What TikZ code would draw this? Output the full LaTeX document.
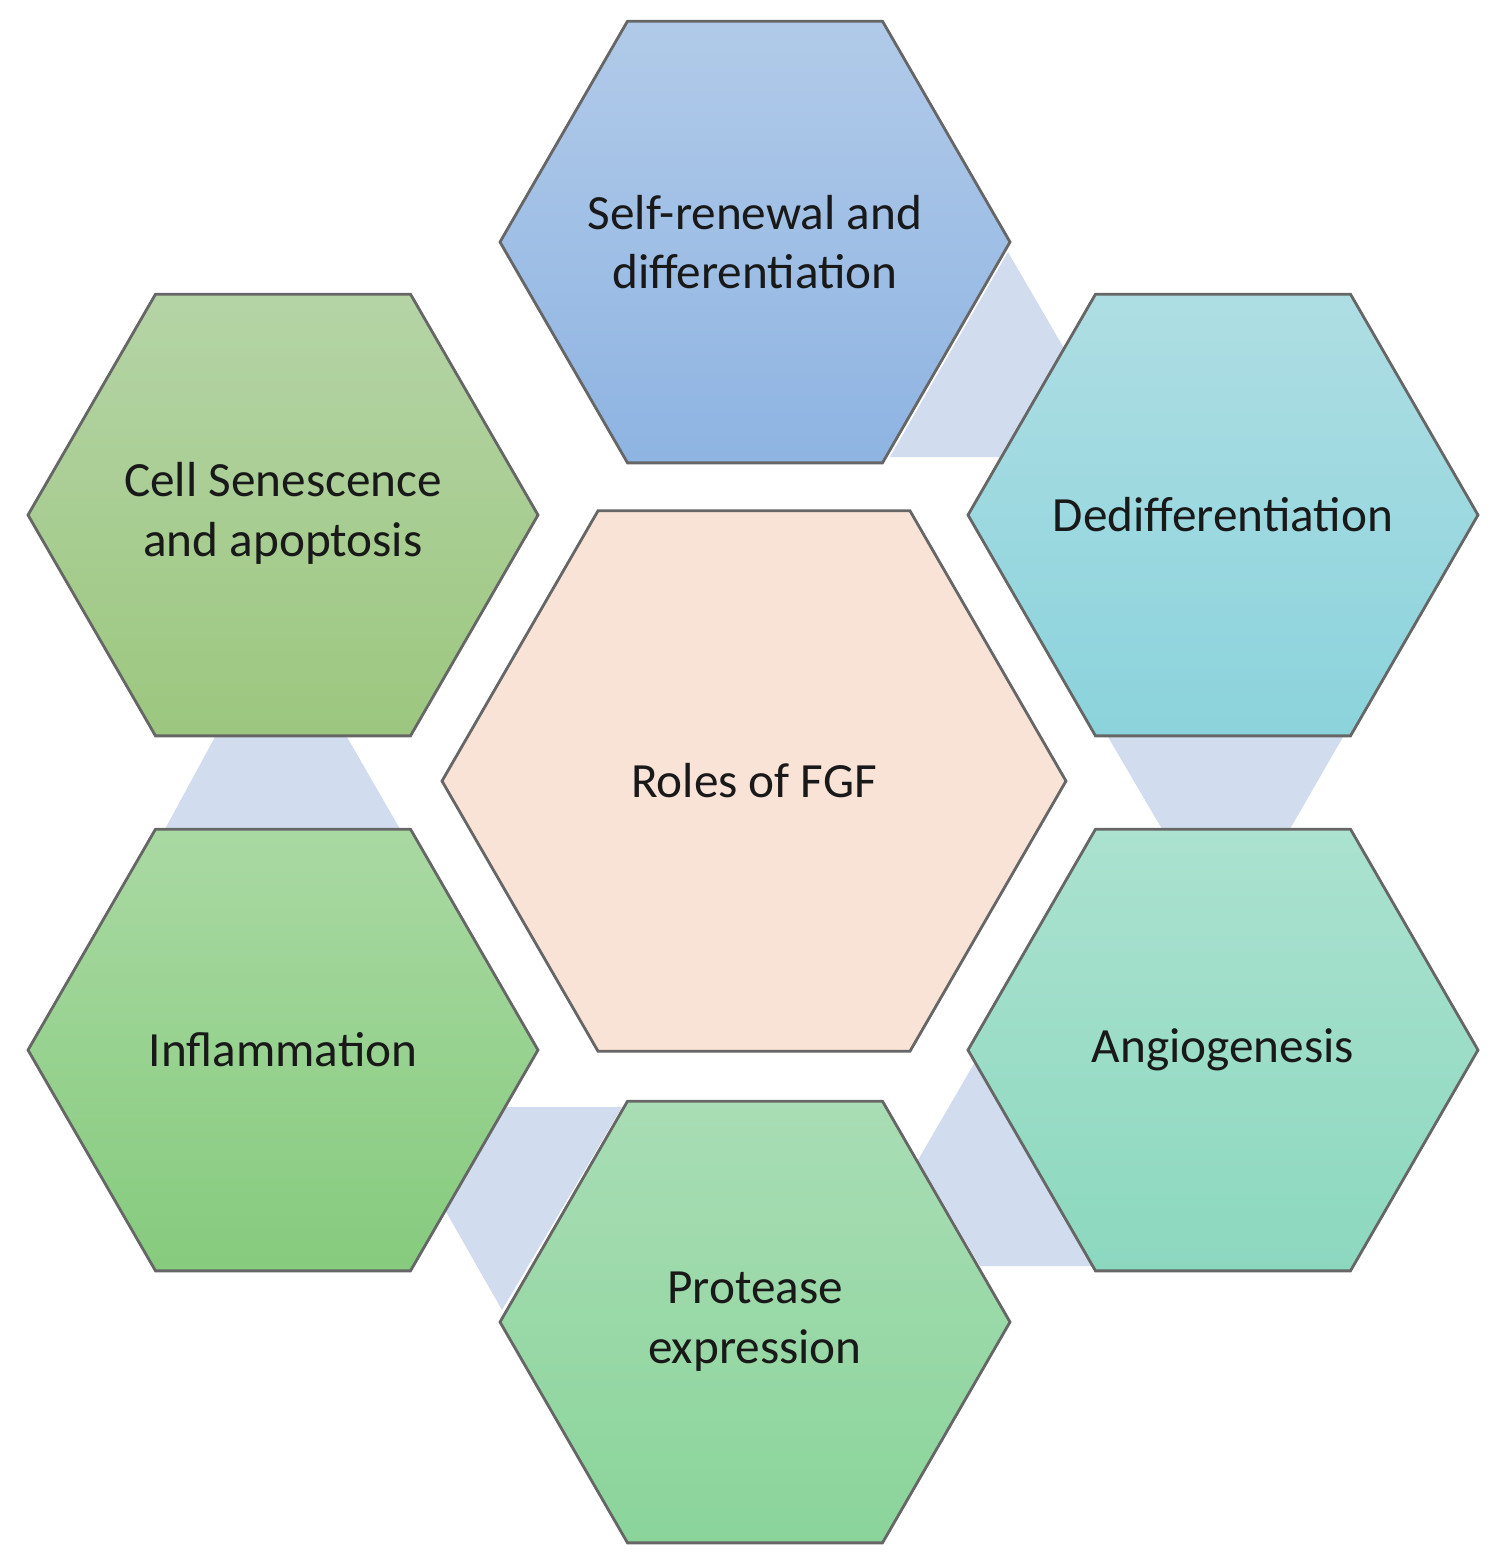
\documentclass[tikz,border=0pt]{standalone}
\usepackage{fontspec}
\setmainfont{Carlito}
\definecolor{bandblue}{HTML}{D1DCEE}
\definecolor{selftop}{HTML}{B1CAE9}\definecolor{selfbot}{HTML}{8EB4E2}
\definecolor{dedtop}{HTML}{AEDEE3}\definecolor{dedbot}{HTML}{8BD3DC}
\definecolor{angtop}{HTML}{ABE2D0}\definecolor{angbot}{HTML}{8CD8BF}
\definecolor{protop}{HTML}{A9DDB5}\definecolor{probot}{HTML}{8AD49A}
\definecolor{inftop}{HTML}{A9D9A2}\definecolor{infbot}{HTML}{86CB7E}
\definecolor{sentop}{HTML}{B5D4A6}\definecolor{senbot}{HTML}{9CC77F}
\definecolor{rolefill}{HTML}{F9E2D6}
\tikzset{
  hexline/.style={draw=black!60, line width=0.8pt},
  band/.style={fill=bandblue},
  label/.style={align=center, font=\fontsize{14}{17}\selectfont, text=black!90}
}
\newcommand{\hexa}[4]{% centre x, centre y, radius, style
  \path[hexline,#4] (#1,#2) ++(0:#3) -- ++(120:#3) -- ++(180:#3) -- ++(240:#3)
    -- ++(300:#3) -- ++(0:#3) -- cycle;}
\begin{document}
\begin{tikzpicture}[x=0.01cm, y=-0.01cm]
\useasboundingbox (0,0) rectangle (1500,1568);

% linking bands
\fill[band] (1008,252) -- (1065,350) -- (1000,457) -- (890,457) -- cycle;
\fill[band] (1108,737) -- (1343,737) -- (1290,829) -- (1162,829) -- cycle;
\fill[band] (975,1062) -- (1093,1266) -- (980,1266) -- (918,1160) -- cycle;
\fill[band] (505,1107) -- (622,1107) -- (502,1310) -- (445,1210) -- cycle;
\fill[band] (215,737) -- (347,737) -- (400,829) -- (165,829) -- cycle;

% hexagons
\hexa{755}{242}{255}{top color=selftop, bottom color=selfbot}
\hexa{1223}{515}{255}{top color=dedtop, bottom color=dedbot}
\hexa{1223}{1050}{255}{top color=angtop, bottom color=angbot}
\hexa{755}{1322}{255}{top color=protop, bottom color=probot}
\hexa{283}{1050}{255}{top color=inftop, bottom color=infbot}
\hexa{283}{515}{255}{top color=sentop, bottom color=senbot}
\hexa{754}{781}{312}{fill=rolefill}

% texts
\node[label] (selfren) at (755,242) {Self-renewal and\\differentiation};
\node[label] (dediff) at (1223,515) {Dedifferentiation};
\node[label] (angio) at (1223,1050) {Angiogenesis};
\node[label] (protease) at (755,1322) {Protease\\expression};
\node[label] (inflam) at (283,1050) {Inflammation};
\node[label] (senes) at (283,513) {Cell Senescence\\and apoptosis};
\node[label] (roles) at (754,781) {Roles of FGF};
\end{tikzpicture}
\end{document}
